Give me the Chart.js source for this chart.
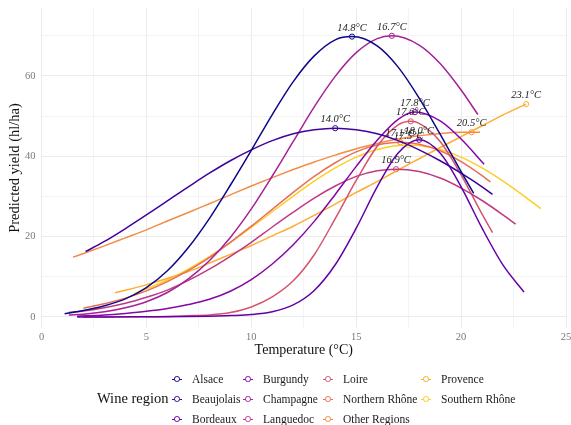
<!DOCTYPE html>
<html lang="en">
<head>
<meta charset="UTF-8">
<title>Predicted yield by temperature</title>
<script src="https://cdn.jsdelivr.net/npm/chart.js"></script>
<style>
  body { margin: 0; background: #fff; }
  #wrap { position: relative; width: 571px; height: 425px; font-family: "Liberation Serif", serif; }
  #legend { position: absolute; left: 0; top: 0; width: 571px; height: 425px; pointer-events: none; }
  .lg-title { position: absolute; font-size: 14.5px; color: #111; line-height: 15px; }
  .lg-item { position: absolute; font-size: 11.5px; color: #1a1a1a; line-height: 12px; white-space: nowrap; }
  .lg-key { position: absolute; width: 10px; height: 1.3px; top: 5.5px; left: -20px; }
  .lg-dot { position: absolute; width: 3.6px; height: 3.6px; border-radius: 50%; background: #fff; left: 2px; top: -2.4px; border: 1.1px solid; }
</style>
</head>
<body>
<div id="wrap">
  <canvas id="chart" width="571" height="425"></canvas>
  <div id="legend"></div>
</div>
<script>
  // regions, in legend order
  const regions = ['Alsace', 'Beaujolais', 'Bordeaux', 'Burgundy', 'Champagne', 'Languedoc',
    'Loire', 'Northern Rhône', 'Other Regions', 'Provence', 'Southern Rhône'];
  const colors = ['#0D0887', '#3E049C', '#6300A7', '#8606A6', '#A62098', '#C03A83',
    '#D5546E', '#E76F5A', '#F58C46', '#FDAD32', '#FCCF25'];

  // curves: temperature (°C) and predicted yield (hl/ha)
  const alsaceT = [1.1, 2, 3, 4, 5, 6, 7, 8, 9, 10, 11, 12, 13, 14, 14.8, 16, 17, 18, 19, 20, 20.6];
  const alsaceY = [0.8, 1.6, 2.8, 4.5, 7.3, 11.5, 17.3, 24.5, 32.8, 41.5, 50.4, 58.6, 65, 69, 69.8, 67.5, 62.2, 54.5, 45.5, 36.2, 30.8];
  const beaujolaisT = [2.1, 3, 4, 5, 6, 7, 8, 9, 10, 11, 12, 13, 14, 15, 16, 17, 18, 19, 20, 21, 21.5];
  const beaujolaisY = [16.3, 18.8, 22.0, 25.4, 28.9, 32.4, 35.8, 38.9, 41.6, 43.9, 45.6, 46.6, 47.0, 46.6, 45.6, 43.9, 41.6, 38.9, 35.8, 32.4, 30.5];
  const bordeauxT = [1.7, 3, 5, 7, 8, 9, 10, 11, 12, 13, 14, 15, 16, 17, 18, 19, 20, 21, 22, 23];
  const bordeauxY = [0, 0, 0.05, 0.1, 0.2, 0.35, 0.6, 1.3, 3.0, 6.6, 13.0, 22.1, 32.4, 40.8, 44.1, 40.8, 32.4, 22.1, 12.9, 6.2];
  const burgundyT = [1.7, 3, 4, 5, 6, 7, 8, 9, 10, 11, 12, 13, 14, 15, 16, 17, 17.8, 19, 20, 21.1];
  const burgundyY = [0.2, 0.5, 0.9, 1.4, 2.1, 3.1, 4.4, 6.4, 9.3, 13.2, 18.0, 23.8, 30.5, 37.5, 44.0, 49.2, 51.0, 48.8, 44.3, 38.0];
  const champagneT = [1.3, 2, 3, 4, 5, 6, 7, 8, 9, 10, 11, 12, 13, 14, 15, 16, 16.7, 18, 19, 20, 20.8];
  const champagneY = [0.5, 0.7, 1.3, 2.3, 3.8, 6.1, 9.5, 14.0, 19.8, 26.9, 35.1, 43.7, 52.3, 59.9, 65.8, 69.3, 70.0, 67.7, 63.1, 56.5, 50.4];
  const languedocT = [1.3, 2, 3, 4, 5, 6, 7, 8, 9, 10, 11, 12, 13, 14, 15, 16, 16.9, 18, 19, 20, 21, 22, 22.6];
  const languedocY = [1.1, 1.5, 2.3, 3.4, 4.9, 6.7, 9.1, 11.9, 15.1, 18.6, 22.4, 26.1, 29.6, 32.6, 35.0, 36.4, 36.8, 36.2, 34.6, 32.1, 29.0, 25.4, 23.1];
  const loireT = [2, 4, 6, 7, 8, 9, 10, 11, 12, 13, 14, 15, 16, 17, 17.6, 18, 19, 20, 21, 21.5];
  const loireY = [0, 0.05, 0.15, 0.3, 0.5, 1.1, 2.5, 5.0, 9.0, 15.5, 24.5, 34.0, 42.5, 47.8, 48.7, 48.2, 43.7, 35.4, 25.6, 21.0];
  const nRhoneT = [2, 3, 4, 5, 6, 7, 8, 9, 10, 11, 12, 13, 14, 15, 16, 17.1, 18, 19, 20, 21, 21.4];
  const nRhoneY = [2.2, 3.3, 4.7, 6.5, 8.8, 11.6, 14.8, 18.6, 22.6, 26.8, 31.0, 35.0, 38.4, 41.1, 42.8, 43.5, 43.0, 41.4, 38.7, 35.2, 33.6];
  const otherT = [1.5, 2, 3, 4, 5, 6, 7, 8, 9, 10, 11, 12, 13, 14, 15, 16, 17, 18, 19, 20, 20.5, 20.9];
  const otherY = [14.9, 15.8, 17.7, 19.7, 21.7, 23.9, 26.0, 28.2, 30.4, 32.6, 34.7, 36.7, 38.6, 40.3, 41.9, 43.2, 44.3, 45.1, 45.7, 46.0, 46.0, 46.0];
  const provenceT = [3.5, 5, 6, 7, 8, 9, 10, 11, 12, 13, 14, 15, 16, 17, 18, 19, 20, 21, 22, 23.1];
  const provenceY = [6.0, 8.0, 9.6, 11.3, 13.4, 15.6, 17.8, 20.2, 22.6, 25.3, 28.1, 31.0, 33.7, 36.6, 39.4, 42.2, 44.9, 47.6, 50.3, 53.0];
  const sRhoneT = [4.4, 5, 6, 7, 8, 9, 10, 11, 12, 13, 14, 15, 16, 17.5, 18, 19, 20, 21, 22, 23, 23.8];
  const sRhoneY = [5.8, 7.0, 9.2, 11.9, 15.0, 18.5, 22.3, 26.2, 30.1, 33.8, 37.1, 39.8, 41.7, 42.8, 42.7, 41.7, 39.8, 37.1, 33.8, 30.1, 27.0];

  // optimum temperature per region (marker + label)
  const peakT = [14.8, 14.0, 18.0, 17.8, 16.7, 16.9, 17.6, 17.1, 20.5, 23.1, 17.5];
  const peakY = [69.8, 47.0, 44.1, 51.0, 70.0, 36.8, 48.7, 43.5, 46.0, 53.0, 42.8];
  const peakLabels = ['14.8°C', '14.0°C', '18.0°C', '17.8°C', '16.7°C', '16.9°C', '17.6°C', '17.1°C', '20.5°C', '23.1°C', '17.5°C'];

  const xTicks = [0, 5, 10, 15, 20, 25];
  const yTicks = [0, 20, 40, 60];

  const curves = [
    [alsaceT, alsaceY], [beaujolaisT, beaujolaisY], [bordeauxT, bordeauxY], [burgundyT, burgundyY],
    [champagneT, champagneY], [languedocT, languedocY], [loireT, loireY], [nRhoneT, nRhoneY],
    [otherT, otherY], [provenceT, provenceY], [sRhoneT, sRhoneY]
  ];

  const datasets = curves.map((c, i) => ({
    type: 'line',
    label: regions[i],
    data: c[0].map((t, j) => ({ x: t, y: c[1][j] })),
    borderColor: colors[i],
    borderWidth: 1.5,
    pointRadius: 0,
    fill: false,
    cubicInterpolationMode: 'monotone'
  }));
  datasets.push({
    type: 'scatter',
    label: 'peaks',
    data: peakT.map((t, i) => ({ x: t, y: peakY[i] })),
    pointRadius: 2.6,
    pointBackgroundColor: '#fff',
    pointBorderColor: colors,
    pointBorderWidth: 1
  });

  const peakText = {
    id: 'peakText',
    afterDatasetsDraw(chart) {
      const ctx = chart.ctx;
      const xs = chart.scales.x, ys = chart.scales.y;
      ctx.save();
      ctx.font = 'italic 10.5px "Liberation Serif", serif';
      ctx.fillStyle = '#222';
      ctx.textAlign = 'center';
      ctx.textBaseline = 'bottom';
      peakLabels.forEach((s, i) => {
        ctx.fillText(s, xs.getPixelForValue(peakT[i]), ys.getPixelForValue(peakY[i]) - 3.5);
      });
      ctx.restore();
    }
  };

  const tickFont = { family: '"Liberation Serif", serif', size: 10.5 };

  new Chart(document.getElementById('chart'), {
    data: { datasets: datasets },
    options: {
      responsive: false,
      animation: false,
      layout: { padding: { top: 8, right: 3, bottom: 60, left: 0 } },
      plugins: { legend: { display: false }, tooltip: { enabled: false } },
      scales: {
        x: {
          type: 'linear', min: 0, max: 25,
          afterBuildTicks: s => { s.ticks = [0, 2.5, 5, 7.5, 10, 12.5, 15, 17.5, 20, 22.5, 25].map(v => ({ value: v })); },
          afterFit: s => { s.height = 37; s.paddingLeft = 0; s.paddingRight = 0; },
          ticks: {
            autoSkip: false, maxRotation: 0, padding: 3, color: '#7a7a7a', font: tickFont,
            callback: v => xTicks.includes(v) ? String(v) : ''
          },
          grid: { drawTicks: false, color: c => (c.tick && xTicks.includes(c.tick.value)) ? '#ebebeb' : '#f4f4f4', lineWidth: 1 },
          border: { display: false },
          title: { display: true, text: 'Temperature (°C)', color: '#111', font: { family: '"Liberation Serif", serif', size: 14 }, padding: { top: 0, bottom: 6 } }
        },
        y: {
          type: 'linear', min: -2.74, max: 76.92,
          afterBuildTicks: s => { s.ticks = [0, 10, 20, 30, 40, 50, 60, 70].map(v => ({ value: v })); },
          afterFit: s => { s.width = 41.5; s.paddingTop = 0; s.paddingBottom = 0; },
          ticks: {
            padding: 6, color: '#7a7a7a', font: tickFont,
            callback: v => yTicks.includes(v) ? String(v) : ''
          },
          grid: { drawTicks: false, color: c => (c.tick && yTicks.includes(c.tick.value)) ? '#ebebeb' : '#f4f4f4', lineWidth: 1 },
          border: { display: false },
          title: { display: true, text: 'Predicted yield (hl/ha)', color: '#111', font: { family: '"Liberation Serif", serif', size: 14.5 }, padding: { top: 6, bottom: 0 } }
        }
      }
    },
    plugins: [peakText]
  });

  // legend: title on the left, three rows, filled column by column
  const legend = document.getElementById('legend');
  const colX = [192, 263, 343, 441];
  const rowY = [373, 393, 413];
  const title = document.createElement('div');
  title.className = 'lg-title';
  title.style.left = '97px';
  title.style.top = (rowY[1] - 2) + 'px';
  title.textContent = 'Wine region';
  legend.appendChild(title);
  regions.forEach((r, i) => {
    const item = document.createElement('div');
    item.className = 'lg-item';
    item.style.left = colX[Math.floor(i / 3)] + 'px';
    item.style.top = rowY[i % 3] + 'px';
    item.textContent = r;
    const key = document.createElement('span');
    key.className = 'lg-key';
    key.style.background = colors[i];
    const dot = document.createElement('span');
    dot.className = 'lg-dot';
    dot.style.borderColor = colors[i];
    key.appendChild(dot);
    item.appendChild(key);
    legend.appendChild(item);
  });
</script>
</body>
</html>
